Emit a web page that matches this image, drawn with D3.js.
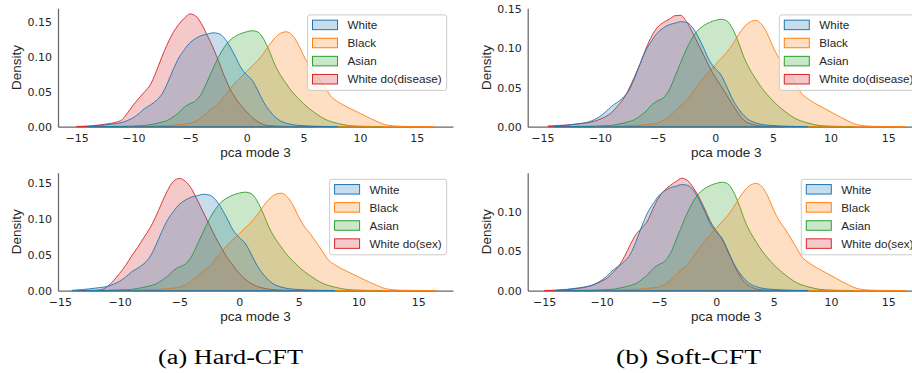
<!DOCTYPE html>
<html>
<head>
<meta charset="utf-8">
<script src="https://cdn.jsdelivr.net/npm/d3@7"></script>
<style>
  body { margin: 0; background: #fff; }
  svg { display: block; font-family: "Liberation Sans", Arial, sans-serif; }
</style>
</head>
<body>
<svg id="fig" width="912" height="373"></svg>
<script>
/******************** data ********************/

// grid the KDE curves are read on (pca mode 3)
var pcaGrid = [-15,-14.5,-14,-13.5,-13,-12.5,-12,-11.5,-11,-10.5,-10,-9.5,-9,-8.5,-8,-7.5,-7,-6.5,-6,-5.5,
  -5,-4.5,-4,-3.5,-3,-2.5,-2,-1.5,-1,-0.5,0,0.5,1,1.5,2,2.5,3,3.5,4,4.5,5,5.5,6,6.5,7,7.5,8,8.5,9,9.5,
  10,10.5,11,11.5,12,12.5,13,13.5,14,14.5,15,15.5,16,16.5];

var xTicks = [-15, -10, -5, 0, 5, 10, 15];
var groups = ["White", "Black", "Asian"];

// densities of the real groups (same in all four panels)
var whiteDens = [null,null,0.0003,0.001,0.0016,0.0025,0.0035,0.0045,0.006,0.009,0.013,0.019,0.026,0.031,0.037,0.046,0.062,0.081,0.098,0.110,
  0.120,0.126,0.130,0.132,0.134,0.133,0.127,0.115,0.100,0.084,0.074,0.066,0.051,0.035,0.023,0.014,0.008,0.005,0.003,0.002,
  0.0015,0.001,0.0007,0.0005,0.0003,0.0002,0.0001,null,null,null,null,null,null,null,null,null,null,null,null,null,null,null,null,null];
var blackDens = [null,null,null,null,null,null,null,null,null,0.0002,0.0003,0.0004,0.0005,0.0007,0.001,0.0013,0.0016,0.002,0.0028,0.0035,
  0.0045,0.008,0.013,0.020,0.027,0.033,0.043,0.053,0.063,0.071,0.079,0.087,0.095,0.105,0.117,0.127,0.1335,0.1355,0.131,0.119,
  0.102,0.088,0.078,0.066,0.054,0.042,0.036,0.031,0.027,0.023,0.019,0.015,0.011,0.0075,0.004,0.002,0.001,0.0006,0.0004,0.0003,
  0.0002,0.0001,0.0001,0];
var asianDens = [null,null,null,null,null,0.0002,0.0003,0.0004,0.0005,0.0007,0.001,0.0013,0.0017,0.003,0.0045,0.0065,0.009,0.014,0.020,0.028,
  0.033,0.037,0.047,0.064,0.082,0.099,0.113,0.123,0.129,0.133,0.1355,0.137,0.135,0.125,0.108,0.088,0.073,0.061,0.050,0.041,
  0.033,0.026,0.020,0.0145,0.010,0.007,0.0048,0.003,0.0016,0.001,0.0007,0.0004,0.0003,0.0002,0.0001,null,null,null,null,null,
  null,null,null,null];

// counterfactual White densities
var hardDiseaseDens = [0.0003,0.0006,0.001,0.0016,0.0025,0.0035,0.0048,0.0065,0.010,0.020,0.031,0.041,0.050,0.060,0.078,0.099,0.118,0.134,0.146,0.155,
  0.161,0.158,0.147,0.131,0.114,0.094,0.073,0.055,0.041,0.030,0.021,0.013,0.007,0.003,0.0015,0.001,0.0007,0.0005,0.0003,0.0002,
  0.0001,0.0001,0,null,null,null,null,null,null,null,null,null,null,null,null,null,null,null,null,null,null,null,null,null];
var hardSexDens = [null,null,null,0.0001,0.0002,0.0003,0.0005,0.0015,0.006,0.014,0.024,0.035,0.048,0.060,0.073,0.086,0.102,0.121,0.139,0.152,
  0.156,0.152,0.142,0.126,0.109,0.092,0.075,0.060,0.046,0.035,0.024,0.016,0.010,0.006,0.0035,0.002,0.0012,0.0007,0.0004,0.0002,
  0.0001,0,null,null,null,null,null,null,null,null,null,null,null,null,null,null,null,null,null,null,null,null,null,null];
var softDiseaseDens = [null,0.001,0.0013,0.0017,0.0021,0.0027,0.0034,0.0042,0.0052,0.007,0.0095,0.013,0.018,0.026,0.035,0.048,0.064,0.081,0.100,0.116,
  0.127,0.133,0.137,0.1415,0.142,0.134,0.121,0.106,0.091,0.076,0.063,0.052,0.040,0.028,0.017,0.008,0.004,0.002,0.001,0.0005,
  0.0003,0.0001,0,null,null,null,null,null,null,null,null,null,null,null,null,null,null,null,null,null,null,null,null,null];
var softSexDens = [0.0001,0.0003,0.0006,0.001,0.0013,0.002,0.0028,0.004,0.006,0.0085,0.012,0.016,0.023,0.031,0.043,0.058,0.071,0.079,0.088,0.104,
  0.118,0.127,0.133,0.138,0.142,0.139,0.130,0.118,0.103,0.087,0.076,0.065,0.050,0.034,0.020,0.010,0.005,0.002,0.001,0.0005,
  0.0002,0.0001,0,null,null,null,null,null,null,null,null,null,null,null,null,null,null,null,null,null,null,null,null,null];

var captions = ["(a) Hard-CFT", "(b) Soft-CFT"];

/******************** layout ********************/

var colors = { White: "#1f77b4", Black: "#ff7f0e", Asian: "#2ca02c", cf: "#d62728" };
var ink = "#262626";

var panels = [
  { dens: hardDiseaseDens, cfLabel: "White do(disease)", xr: [58, 453],      xd: [-16.65, 18.2],  yr: [126.7, 8.3],   yd: [0, 0.169] },
  { dens: hardSexDens,     cfLabel: "White do(sex)",     xr: [58, 453],      xd: [-15.16, 17.9],  yr: [290.6, 172.7], yd: [0, 0.164] },
  { dens: softDiseaseDens, cfLabel: "White do(disease)", xr: [527.7, 924.8], xd: [-16.27, 18.17], yr: [126.7, 8.3],   yd: [0, 0.151] },
  { dens: softSexDens,     cfLabel: "White do(sex)",     xr: [527.7, 924.7], xd: [-16.44, 18.17], yr: [290.6, 172.7], yd: [0, 0.149] }
];

var svg = d3.select("#fig");

panels.forEach(function (p) {
  var g = svg.append("g");
  var x = d3.scaleLinear().domain(p.xd).range(p.xr);
  var y = d3.scaleLinear().domain(p.yd).range(p.yr);

  /* ---- axes (spines only, seaborn "white" style has no tick marks) ---- */
  var xAxis = g.append("g").attr("transform", "translate(0," + p.yr[0] + ")")
    .call(d3.axisBottom(x).tickValues(xTicks).tickSize(0).tickSizeOuter(0).tickPadding(8));
  var yAxis = g.append("g").attr("transform", "translate(" + p.xr[0] + ",0)")
    .call(d3.axisLeft(y).ticks(4).tickFormat(d3.format(".2f")).tickSize(0).tickSizeOuter(0).tickPadding(6));
  [xAxis, yAxis].forEach(function (a) {
    a.select(".domain").attr("stroke", ink).attr("stroke-width", 1.25).attr("stroke-opacity", 0.7);
    a.selectAll("text").attr("fill", ink).style("font-family", "'DejaVu Sans', sans-serif").style("font-size", "11px");
  });

  g.append("text")
    .attr("transform", "translate(" + (p.xr[0] - 36.7) + "," + ((p.yr[0] + p.yr[1]) / 2) + ") rotate(-90)")
    .attr("text-anchor", "middle").attr("fill", ink).style("font-size", "13.5px")
    .text("Density");
  g.append("text")
    .attr("x", (p.xr[0] + p.xr[1]) / 2).attr("y", p.yr[0] + 30)
    .attr("text-anchor", "middle").attr("fill", ink).style("font-size", "13.5px")
    .text("pca mode 3");

  /* ---- KDE curves: counterfactual first, then Asian, Black, White (seaborn draws hues reversed) ---- */
  var series = [
    { label: p.cfLabel, color: colors.cf, dens: p.dens },
    { label: "Asian", color: colors.Asian, dens: asianDens },
    { label: "Black", color: colors.Black, dens: blackDens },
    { label: "White", color: colors.White, dens: whiteDens }
  ];

  var area = d3.area()
    .defined(function (r) { return r.d != null; })
    .x(function (r) { return x(r.v); })
    .y0(y(0))
    .y1(function (r) { return y(r.d); })
    .curve(d3.curveMonotoneX);

  series.forEach(function (s) {
    var rows = pcaGrid.map(function (v, i) { return { v: v, d: s.dens[i] }; });
    g.append("path")
      .attr("d", area(rows))
      .attr("fill", s.color).attr("fill-opacity", 0.25)
      .attr("stroke", s.color).attr("stroke-width", 1).attr("stroke-opacity", 0.9)
      .attr("stroke-linejoin", "round");
  });

  /* ---- legend (upper right) ---- */
  var legendItems = groups.map(function (k) { return { label: k, color: colors[k] }; })
    .concat([{ label: p.cfLabel, color: colors.cf }]);

  var lg = g.append("g");
  var frame = lg.append("rect");
  var texts = [];
  legendItems.forEach(function (it) {
    var row = lg.append("g").attr("class", "row");
    row.append("rect").attr("class", "patch")
      .attr("width", 25).attr("height", 9.5)
      .attr("fill", it.color).attr("fill-opacity", 0.25)
      .attr("stroke", it.color).attr("stroke-width", 1);
    texts.push(row.append("text").attr("fill", ink).style("font-size", "11.7px").text(it.label));
  });
  var maxW = d3.max(texts, function (t) { return t.node().getComputedTextLength(); });
  var boxW = 40 + maxW + 5;
  var boxL = p.xr[1] - 6.3 - boxW;
  var boxT = p.yr[1] + 6.6;
  frame.attr("x", boxL).attr("y", boxT).attr("width", boxW).attr("height", 75.5)
    .attr("rx", 2.5).attr("fill", "#fff").attr("fill-opacity", 0.8)
    .attr("stroke", "#cccccc").attr("stroke-width", 1);
  lg.selectAll("g.row").each(function (d, i) {
    var cy = boxT + 10 + 18.1 * i;
    d3.select(this).select("rect.patch").attr("x", boxL + 5).attr("y", cy - 4.75);
    d3.select(this).select("text").attr("x", boxL + 40).attr("y", cy + 4.2);
  });
});

/* ---- sub-figure captions ---- */
svg.selectAll("text.caption").data(captions).enter().append("text")
  .attr("class", "caption")
  .attr("x", function (d, i) { return i === 0 ? 230.5 : 688.5; })
  .attr("y", 364)
  .attr("text-anchor", "middle")
  .attr("textLength", 145).attr("lengthAdjust", "spacingAndGlyphs")
  .attr("fill", "#000")
  .style("font-family", "'Liberation Serif', 'DejaVu Serif', serif")
  .style("font-size", "20px")
  .text(function (d) { return d; });
</script>
</body>
</html>
